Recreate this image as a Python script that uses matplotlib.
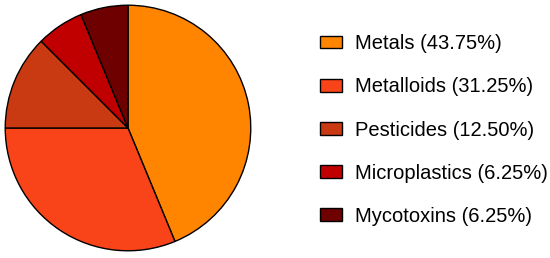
import matplotlib
matplotlib.use("Agg")
import matplotlib.pyplot as plt

categories = ["Metals", "Metalloids", "Pesticides", "Microplastics", "Mycotoxins"]
shares = [43.75, 31.25, 12.50, 6.25, 6.25]
colors = ["#FF8500", "#F94419", "#C93A13", "#C00000", "#6E0000"]

plt.rcParams['font.family'] = ['Liberation Sans', 'DejaVu Sans']

W, H = 550, 258
fig = plt.figure(figsize=(W / 100, H / 100), dpi=100)
cx, cy, r = 128, 130, 124
ax = fig.add_axes([(cx - r) / W, (cy - r) / H, 2 * r / W, 2 * r / H])
wedges, _ = ax.pie(shares, colors=colors, startangle=90, counterclock=False,
                   wedgeprops=dict(edgecolor="black", linewidth=1.0))
ax.set_xlim(-1.01, 1.01)
ax.set_ylim(-1.01, 1.01)
ax.set_aspect("equal")

labels = [f"{c} ({v:.2f}%)" for c, v in zip(categories, shares)]
fig.legend(wedges, labels, loc="center left", bbox_to_anchor=(320 / W, 128 / H),
           frameon=False, fontsize=14.5, borderpad=0, borderaxespad=0,
           handlelength=1.09, handleheight=0.6, handletextpad=0.65,
           labelspacing=1.2)

fig.savefig("out.png", dpi=100)
